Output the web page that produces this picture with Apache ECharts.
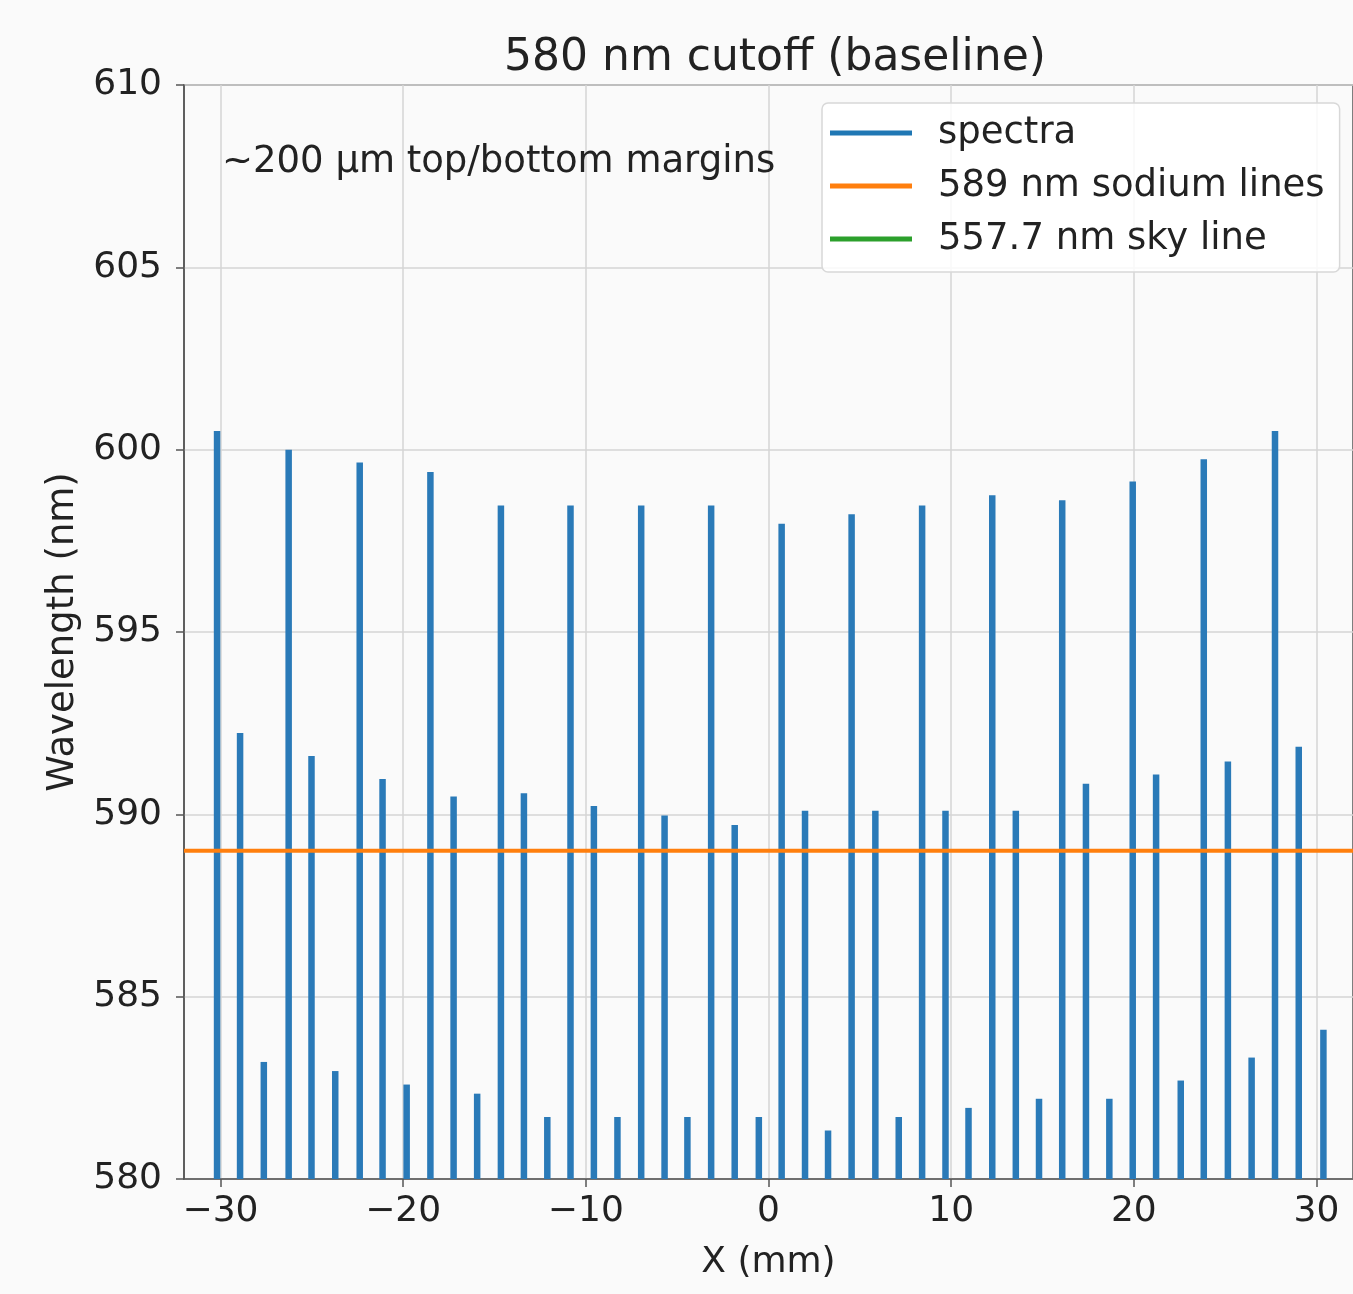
<!DOCTYPE html>
<html>
<head>
<meta charset="utf-8">
<script src="https://cdn.jsdelivr.net/npm/echarts@6/dist/echarts.min.js"></script>
<style>
  html, body { margin: 0; padding: 0; background: #ffffff; }
  #chart { width: 1353px; height: 1294px; }
</style>
</head>
<body>
<div id="chart"></div>
<script>
// ---- data ----
const spectraX = [
  -30.19, -28.93, -27.63, -26.27, -25.02, -23.72, -22.38, -21.13, -19.81, -18.51, -17.24, -15.95,
  -14.65, -13.39, -12.11, -10.84, -9.56, -8.27, -6.97, -5.69, -4.44, -3.14, -1.85, -0.53,
  0.72, 2.00, 3.26, 4.55, 5.85, 7.13, 8.41, 9.69, 10.95, 12.25, 13.54, 14.81,
  16.08, 17.38, 18.66, 19.94, 21.22, 22.57, 23.83, 25.15, 26.45, 27.73, 29.03, 30.38
];
const spectraTop = [
  600.51, 592.23, 583.21, 600.00, 591.60, 582.96, 599.65, 590.97, 582.59, 599.39, 590.49, 582.34,
  598.47, 590.58, 581.70, 598.47, 590.23, 581.70, 598.47, 589.97, 581.70, 598.47, 589.71, 581.70,
  597.97, 590.10, 581.33, 598.23, 590.10, 581.70, 598.47, 590.10, 581.95, 598.75, 590.10, 582.20,
  598.61, 590.84, 582.20, 599.13, 591.09, 582.70, 599.74, 591.45, 583.33, 600.51, 591.85, 584.09
];
const spectraBase = 580;
const sodiumLine = 589;
const skyLine = 557.7;
const xRange = [-32, 32];
const yRange = [580, 610];
const xTicks = [-30, -20, -10, 0, 10, 20, 30];
const seriesNames = ['spectra', '589 nm sodium lines', '557.7 nm sky line'];
const titleText = '580 nm cutoff (baseline)';
const noteText = '~200 µm top/bottom margins';

// ---- chart ----
const FONT = 'DejaVu Sans';
const chart = echarts.init(document.getElementById('chart'), null, { renderer: 'canvas' });

const spectraData = spectraX.map((x, i) => [x, spectraTop[i]]);

const option = {
  backgroundColor: '#fafafa',
  animation: false,
  title: {
    text: titleText,
    left: 770,
    top: 32,
    textAlign: 'center',
    textStyle: { fontFamily: FONT, fontSize: 44, fontWeight: 'normal', color: '#222' }
  },
  grid: {
    left: 184,
    top: 85,
    width: 1171,
    height: 1094,
    show: true,
    borderColor: '#555',
    borderWidth: 1.5,
    backgroundColor: 'transparent'
  },
  xAxis: {
    type: 'value',
    min: xRange[0],
    max: xRange[1],
    name: 'X (mm)',
    nameLocation: 'middle',
    nameGap: 66,
    nameTextStyle: { fontFamily: FONT, fontSize: 36, color: '#222' },
    axisLine: { show: true, onZero: false, lineStyle: { color: '#555', width: 1.5 } },
    axisTick: { show: true, length: 8, customValues: xTicks, lineStyle: { color: '#555', width: 1.5 } },
    axisLabel: {
      customValues: xTicks,
      margin: 15,
      fontFamily: FONT, fontSize: 36, color: '#222',
      formatter: v => (v < 0 ? '\u2212' + Math.abs(v) : String(v))
    },
    splitLine: { show: true, lineStyle: { color: '#d4d4d4', width: 1.5 } }
  },
  yAxis: {
    type: 'value',
    min: yRange[0],
    max: yRange[1],
    interval: 5,
    name: 'Wavelength (nm)',
    nameLocation: 'middle',
    nameGap: 99,
    nameTextStyle: { fontFamily: FONT, fontSize: 37, color: '#222' },
    axisLine: { show: true, onZero: false, lineStyle: { color: '#555', width: 1.5 } },
    axisTick: { show: true, length: 8, lineStyle: { color: '#555', width: 1.5 } },
    axisLabel: { margin: 22, fontFamily: FONT, fontSize: 36, color: '#222' },
    splitLine: { show: true, lineStyle: { color: '#d4d4d4', width: 1.5 } }
  },
  legend: {
    orient: 'vertical',
    left: 822,
    top: 103,
    padding: [10, 15, 13, 8],
    itemGap: 13,
    itemWidth: 82,
    itemHeight: 5,
    icon: 'rect',
    backgroundColor: 'rgba(255,255,255,0.85)',
    borderColor: '#d8d8d8',
    borderWidth: 1.5,
    borderRadius: 6,
    data: seriesNames,
    textStyle: {
      fontFamily: FONT, fontSize: 37, color: '#222',
      lineHeight: 40,
      padding: [0, 0, 0, 21]
    }
  },
  graphic: [
    {
      type: 'text',
      left: 222,
      top: 144,
      style: { text: noteText, font: '37px "DejaVu Sans"', fill: '#222' },
      z: 10
    }
  ],
  series: [
    {
      name: seriesNames[0],
      type: 'custom',
      color: '#1f77b4',
      clip: true,
      data: spectraData,
      encode: { x: 0, y: 1 },
      renderItem: function (params, api) {
        const x = api.value(0);
        const top = api.value(1);
        const p0 = api.coord([x, spectraBase]);
        const p1 = api.coord([x, top]);
        return {
          type: 'line',
          shape: { x1: p0[0], y1: p0[1], x2: p1[0], y2: p1[1] },
          style: { stroke: '#2a7ab8', lineWidth: 6.5, lineCap: 'butt' }
        };
      },
      z: 3
    },
    {
      name: seriesNames[1],
      type: 'line',
      color: '#ff7f0e',
      symbol: 'none',
      clip: true,
      data: [[xRange[0], sodiumLine], [xRange[1], sodiumLine]],
      lineStyle: { color: '#ff7f0e', width: 4 },
      z: 4
    },
    {
      name: seriesNames[2],
      type: 'line',
      color: '#2ca02c',
      symbol: 'none',
      clip: true,
      data: [[xRange[0], skyLine], [xRange[1], skyLine]],
      lineStyle: { color: '#2ca02c', width: 4 },
      z: 4
    }
  ]
};
chart.setOption(option);
</script>
</body>
</html>
